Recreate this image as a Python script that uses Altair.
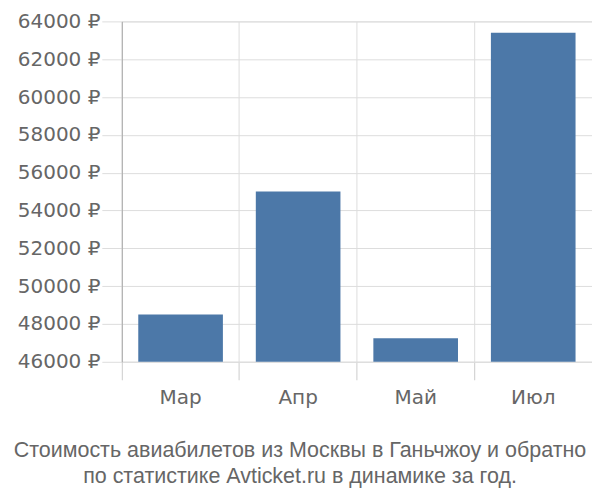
import altair as alt
import pandas as pd

months = ["Мар", "Апр", "Май", "Июл"]
prices = [48500, 55000, 47250, 63400]
baseline = 46000
title_lines = ["Стоимость авиабилетов из Москвы в Ганьчжоу и обратно",
               "по статистике Avticket.ru в динамике за год."]

df = pd.DataFrame({"month": months, "price": prices, "base": [baseline] * len(months)})

label_font = "DejaVu Sans"
title_font = "Liberation Sans"

chart = alt.Chart(df).mark_bar(
    color="#4c78a8", width=alt.RelativeBandSize(0.72)
).encode(
    x=alt.X("month:N", sort=months, title=None,
            scale=alt.Scale(paddingInner=0, paddingOuter=0),
            axis=alt.Axis(bandPosition=0, labelAngle=0, labelFontSize=20,
                          labelColor="#666", labelFont=label_font, labelPadding=8,
                          tickSize=18, tickColor="#ccc", gridColor="#ddd",
                          grid=True, domainColor="#ddd")),
    y=alt.Y("price:Q", title=None,
            scale=alt.Scale(domain=[46000, 64000], zero=False, nice=False),
            axis=alt.Axis(values=list(range(46000, 64001, 2000)),
                          labelExpr="datum.value + ' ₽'",
                          labelFontSize=20, labelColor="#666", labelFont=label_font,
                          labelPadding=2, tickSize=20, tickColor="#ddd",
                          gridColor="#ddd", domainColor="#aaa")),
    y2="base:Q",
).properties(
    width=471, height=341,
    autosize=alt.AutoSizeParams(type="none"),
    padding={"left": 114, "top": 13, "right": 0, "bottom": 130},
    title=alt.TitleParams(text=title_lines, orient="bottom", fontSize=21.5,
                          font=title_font, color="#666", fontWeight="normal",
                          offset=32, lineHeight=26, anchor="middle", dx=-57),
).configure_view(stroke="#ddd")

chart.save("out.html", embed_options={"renderer": "svg", "actions": False})
